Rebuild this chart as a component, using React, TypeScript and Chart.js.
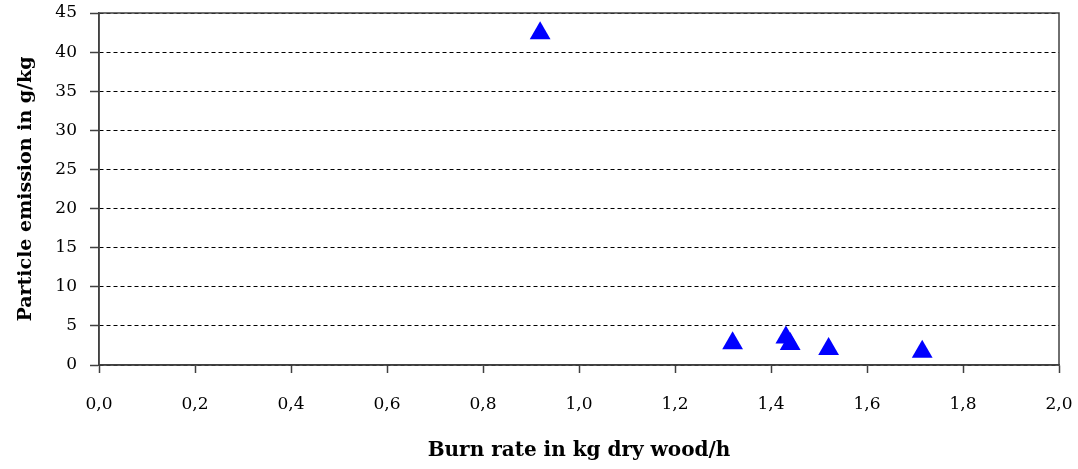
import React, { useEffect, useRef } from "react";
import { Chart, registerables } from "chart.js";

Chart.register(...registerables);

const burnRate = [0.919, 1.32, 1.431, 1.44, 1.52, 1.715];
const particleEmission = [42.4, 2.79, 3.52, 2.68, 2.04, 1.69];
const xTickLabels = ["0,0", "0,2", "0,4", "0,6", "0,8", "1,0", "1,2", "1,4", "1,6", "1,8", "2,0"];
const yTickValues = [0, 5, 10, 15, 20, 25, 30, 35, 40, 45];

const frame = {
  id: "frame",
  afterDatasetsDraw(chart: any) {
    const { ctx, chartArea } = chart;
    ctx.save();
    ctx.strokeStyle = "#404040";
    ctx.lineWidth = 1.5;
    ctx.setLineDash([]);
    ctx.strokeRect(chartArea.left, chartArea.top, chartArea.right - chartArea.left, chartArea.bottom - chartArea.top);
    ctx.restore();
  },
};

export default function App() {
  const ref = useRef<HTMLCanvasElement>(null);
  useEffect(() => {
    if (!ref.current) return;
    const chart = new Chart(ref.current, {
      type: "scatter",
      data: {
        datasets: [
          {
            data: burnRate.map((x, i) => ({ x, y: particleEmission[i] })),
            pointStyle: "triangle",
            pointRadius: 12,
            backgroundColor: "#0000ff",
            borderColor: "#0000ff",
            borderWidth: 0,
          },
        ],
      },
      plugins: [frame],
      options: {
        animation: false,
        responsive: false,
        layout: { padding: { left: 0, right: 19, top: 13, bottom: 0 } },
        plugins: { legend: { display: false }, tooltip: { enabled: false } },
        scales: {
          x: {
            type: "linear",
            min: 0,
            max: 2,
            afterFit: (s: any) => {
              s.height = 104;
              s.paddingLeft = 0;
              s.paddingRight = 0;
            },
            afterBuildTicks: (s: any) => { s.ticks = xTickLabels.map((_, i) => ({ value: i * 0.2 })); },
            ticks: {
              callback: (_v: any, i: number) => xTickLabels[i],
              color: "#000",
              font: { family: "DejaVu Serif", size: 17 },
              padding: 21,
              maxRotation: 0,
              autoSkip: false,
            },
            grid: {
              drawOnChartArea: false,
              drawTicks: true,
              tickLength: 8,
              tickColor: "#404040",
              tickWidth: 1.5,
            },
            border: { display: true, color: "#404040", width: 1.5 },
            title: {
              display: true,
              text: "Burn rate in kg dry wood/h",
              color: "#000",
              font: { family: "DejaVu Serif", size: 20, weight: "bold" },
              padding: { top: 0, bottom: 6 },
            },
          },
          y: {
            type: "linear",
            min: 0,
            max: 45,
            afterFit: (s: any) => {
              s.width = 99;
              s.paddingTop = 0;
              s.paddingBottom = 0;
            },
            afterBuildTicks: (s: any) => { s.ticks = yTickValues.map((v) => ({ value: v })); },
            ticks: {
              color: "#000",
              font: { family: "DejaVu Serif", size: 17 },
              padding: 13,
              autoSkip: false,
            },
            grid: {
              color: "#000",
              lineWidth: 1,
              tickBorderDash: [],
              tickLength: 9,
              tickColor: "#404040",
              tickWidth: 1.5,
            },
            border: { display: true, color: "#404040", width: 1.5, dash: [4, 3] },
            title: {
              display: true,
              text: "Particle emission in g/kg",
              color: "#000",
              font: { family: "DejaVu Serif", size: 19, weight: "bold" },
              padding: { top: 15, bottom: 0 },
            },
          },
        },
      } as any,
    });
    return () => chart.destroy();
  }, []);
  return (
    <div style={{ position: "fixed", left: 0, top: 0, width: 1078, height: 469, background: "#fff" }}>
      <canvas ref={ref} width={1078} height={469} />
    </div>
  );
}
